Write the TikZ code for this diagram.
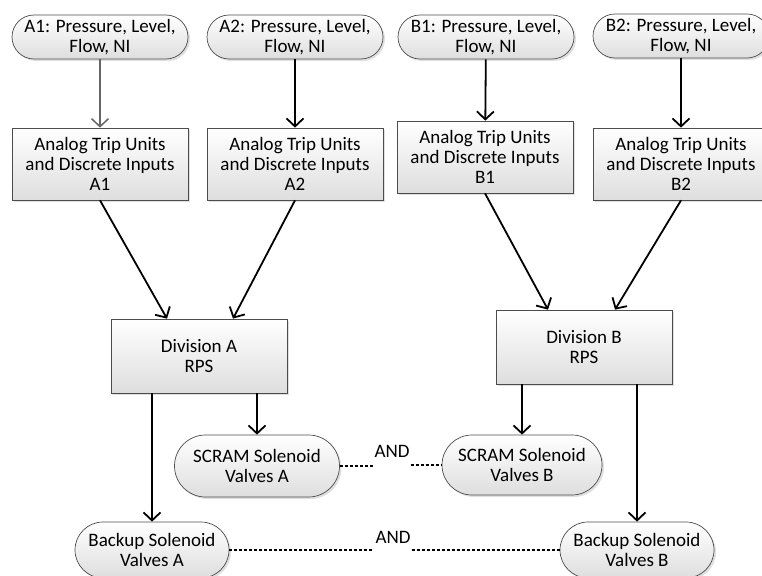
\documentclass[tikz,border=0pt]{standalone}
\usepackage{fontspec}
\setmainfont{Carlito}
\usetikzlibrary{arrows.meta,shadows}

\begin{document}
\begin{tikzpicture}[x=1pt,y=-1pt,
  font=\fontsize{19}{20}\selectfont,
  box/.style={draw=black!70,line width=0.7pt,top color=white,bottom color=black!13,
    drop shadow={shadow xshift=2pt,shadow yshift=-2pt,opacity=0.25},
    align=center,inner sep=0pt,minimum width=176pt,minimum height=72pt},
  pill/.style={box,rounded corners=#1},
  pill/.default=22pt,
  flow/.style={-{Straight Barb[length=8pt,width=17pt]},line width=1.8pt},
  link/.style={dash pattern=on 3pt off 2pt,line width=1.3pt}]
\useasboundingbox (0,0) rectangle (762,575);
\node[pill,minimum height=44pt] (srcA1) at (100,37) {A1: Pressure, Level,\\Flow, NI};
\node[pill,minimum height=44pt] (srcA2) at (295,37) {A2: Pressure, Level,\\Flow, NI};
\node[pill,minimum height=44pt] (srcB1) at (486,37) {B1: Pressure, Level,\\Flow, NI};
\node[pill,minimum height=44pt] (srcB2) at (681,36) {B2: Pressure, Level,\\Flow, NI};
\node[box] (trA1) at (100,164) {Analog Trip Units\\and Discrete Inputs\\A1};
\node[box] (trA2) at (295,164) {Analog Trip Units\\and Discrete Inputs\\A2};
\node[box] (trB1) at (485,157) {Analog Trip Units\\and Discrete Inputs\\B1};
\node[box] (trB2) at (681,164) {Analog Trip Units\\and Discrete Inputs\\B2};
\node[box,minimum height=74pt] (divA) at (199,356) {Division A\\RPS};
\node[box,minimum height=74pt] (divB) at (584,347) {Division B\\RPS};
\node[pill=31pt,minimum width=165pt,minimum height=62pt] (scA) at (257,466) {SCRAM Solenoid\\Valves A};
\node[pill=30pt,minimum width=160pt,minimum height=60pt] (scB) at (522,465) {SCRAM Solenoid\\Valves B};
\node[pill=28pt,minimum width=154pt,minimum height=56pt] (bkA) at (152,550) {Backup Solenoid\\Valves A};
\node[pill=28pt,minimum width=154pt,minimum height=56pt] (bkB) at (637,550) {Backup Solenoid\\Valves B};
\node[anchor=base,inner sep=1pt] (andS) at (392,457) {AND};
\node[anchor=base,inner sep=1pt] (andB) at (393,543) {AND};

\draw[flow,draw=black!60,line width=1.5pt] (srcA1) -- (trA1);
\draw[flow] (srcA2) -- (trA2);
\draw[flow] (srcB1) -- (trB1);
\draw[flow] (srcB2) -- (trB2);
\draw[flow] (trA1.south) -- ([xshift=-32pt]divA.north);
\draw[flow] (trA2.south) -- ([xshift=34pt]divA.north);
\draw[flow] (trB1.south) -- ([xshift=-36pt]divB.north);
\draw[flow] (trB2.south) -- ([xshift=31pt]divB.north);
\draw[flow] (divA.south -| bkA.north) -- (bkA.north);
\draw[flow] (divA.south -| scA.north) -- (scA.north);
\draw[flow] (divB.south -| scB.north) -- (scB.north);
\draw[flow] (divB.south -| bkB.north) -- (bkB.north);
\draw[link] (scA.east) -- (scA.east -| andS.west);
\draw[link] (andS.east |- scB.west) -- (scB.west);
\draw[link] (bkA.east) -- (bkA.east -| andB.west);
\draw[link] (andB.east |- bkB.west) -- (bkB.west);
\end{tikzpicture}
\end{document}
